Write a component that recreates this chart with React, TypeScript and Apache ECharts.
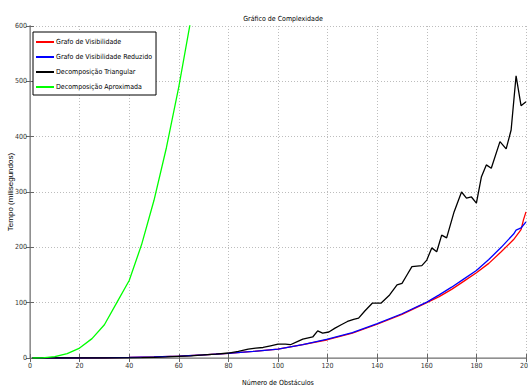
import React, { useEffect, useRef } from "react";
import * as echarts from "echarts";

const seriesNames = [
  "Grafo de Visibilidade",
  "Grafo de Visibilidade Reduzido",
  "Decomposição Triangular",
  "Decomposição Aproximada",
];

const redX = [1, 10, 20, 30, 40, 50, 60, 70, 80, 90, 100, 110, 120, 130, 140, 150, 160, 165, 170, 175, 180, 185, 190, 195, 198, 199, 200];
const redY = [0, 0, 0, 0.3, 1, 2, 3.5, 5.5, 8.5, 12, 16, 24, 33, 45, 61, 79, 100, 111, 124, 139, 154, 171, 192, 214, 232, 250, 264];

const blueX = [1, 10, 20, 30, 40, 50, 60, 70, 80, 90, 100, 110, 120, 130, 140, 150, 160, 165, 170, 175, 180, 185, 190, 195, 196, 198, 200];
const blueY = [0, 0, 0, 0.3, 1, 2, 3.5, 5.5, 8.5, 12, 16, 24, 34, 46, 62, 80, 101, 114, 128, 143, 158, 178, 200, 224, 231, 235, 246];

const blackX = [1, 10, 20, 30, 40, 45, 50, 55, 60, 65, 70, 75, 80, 84, 88, 91, 94, 97, 100, 103, 105, 108, 110, 114, 116, 118, 120.5, 123, 125.5, 128, 130.5, 132.5, 135, 138, 141.5, 145, 148, 150, 152, 154, 158, 160, 162, 164, 166, 168, 171, 174, 176, 178, 180, 182, 184, 186, 189.5, 192, 194, 196, 198, 200];
const blackY = [0, 0, 0, 0, 0.3, 0.5, 1.2, 2, 3, 4, 5.5, 7, 9, 12, 16, 18, 19, 22, 25, 25, 24, 30, 34, 38, 49, 45, 47, 54, 60, 66, 70, 72, 85, 99, 99, 114, 132, 135, 150, 165, 167, 177, 199, 192, 222, 217, 264, 300, 289, 291, 280, 327, 349, 343, 391, 378, 412, 510, 456, 463];

const greenX = [1, 5, 10, 15, 20, 25, 30, 35, 40, 45, 50, 55, 60, 65];
const greenY = [0, 0.3, 2.3, 8, 18, 35, 60, 100, 140, 205, 285, 380, 490, 615];

const colors = ["#ff0000", "#0000ff", "#000000", "#00ff00"];

const zip = (xs: number[], ys: number[]) => xs.map((x, i) => [x, ys[i]]);

const NARROW = "'Liberation Sans Narrow', 'DejaVu Sans Condensed', 'Arial Narrow', 'Liberation Sans', sans-serif";

export default function App() {
  const ref = useRef<HTMLDivElement>(null);
  useEffect(() => {
    if (!ref.current) return;
    const chart = echarts.init(ref.current, undefined, { renderer: "svg" });
    const datasets = [zip(redX, redY), zip(blueX, blueY), zip(blackX, blackY), zip(greenX, greenY)];
    chart.setOption({
      animation: false,
      backgroundColor: "#ffffff",
      title: {
        text: "Gráfico de Complexidade",
        left: 278,
        top: 10,
        textAlign: "center",
        textStyle: { fontSize: 7, fontWeight: "normal", color: "#000", fontFamily: NARROW },
      },
      legend: {
        data: seriesNames,
        orient: "vertical",
        left: 33,
        top: 32,
        padding: [5, 4, 3, 3],
        itemGap: 5,
        itemWidth: 18,
        itemHeight: 2,
        icon: "rect",
        borderColor: "#000",
        borderWidth: 1,
        backgroundColor: "#fff",
        textStyle: { fontSize: 7, color: "#000", fontFamily: NARROW, lineHeight: 10, padding: [0, 0, 0, -3] },
      },
      grid: { left: 30, right: 2, top: 26, bottom: 29, containLabel: false, outerBoundsMode: "none" },
      xAxis: [
        {
          type: "value",
          min: 0,
          max: 200,
          interval: 20,
          name: "Número de Obstáculos",
          nameLocation: "middle",
          nameGap: 21,
          nameMoveOverlap: false,
          nameTextStyle: { fontSize: 7, color: "#000", fontFamily: NARROW },
          axisLine: { lineStyle: { color: "#b8b8b8", width: 2 } },
          axisTick: { inside: true, length: 4, lineStyle: { color: "#666" } },
          axisLabel: { fontSize: 7, color: "#333", margin: 4, fontFamily: NARROW, showMaxLabel: true },
          splitLine: { show: true, lineStyle: { type: [1, 2], color: "#bdbdbd", width: 1 } },
        },
        {
          type: "value",
          position: "top",
          min: 0,
          max: 200,
          interval: 20,
          axisLine: { show: true, lineStyle: { color: "#909090", width: 1 } },
          axisTick: { show: true, inside: true, length: 4, lineStyle: { color: "#666" } },
          axisLabel: { show: false },
          splitLine: { show: false },
        },
      ],
      yAxis: [
        {
          type: "value",
          min: 0,
          max: 600,
          interval: 100,
          name: "Tempo (milisegundos)",
          nameLocation: "middle",
          nameGap: 16,
          nameMoveOverlap: false,
          nameTextStyle: { fontSize: 8, color: "#000", fontFamily: "'Liberation Sans', sans-serif" },
          axisLine: { show: true, lineStyle: { color: "#b8b8b8", width: 2 } },
          axisTick: { show: true, inside: true, length: 4, lineStyle: { color: "#666" } },
          axisLabel: { fontSize: 7, color: "#333", margin: 3, fontFamily: NARROW },
          splitLine: { show: true, lineStyle: { type: [1, 2], color: "#bdbdbd", width: 1 } },
        },
        {
          type: "value",
          position: "right",
          min: 0,
          max: 600,
          interval: 100,
          axisLine: { show: true, lineStyle: { color: "#909090", width: 1 } },
          axisTick: { show: true, inside: true, length: 4, lineStyle: { color: "#666" } },
          axisLabel: { show: false },
          splitLine: { show: false },
        },
      ],
      series: seriesNames.map((name, i) => ({
        name,
        type: "line",
        data: datasets[i],
        xAxisIndex: 0,
        yAxisIndex: 0,
        symbol: "none",
        clip: true,
        lineStyle: { color: colors[i], width: 1.3 },
        itemStyle: { color: colors[i] },
      })),
    });
    return () => chart.dispose();
  }, []);
  return <div ref={ref} style={{ position: "fixed", left: 0, top: 0, width: 528, height: 387 }} />;
}
